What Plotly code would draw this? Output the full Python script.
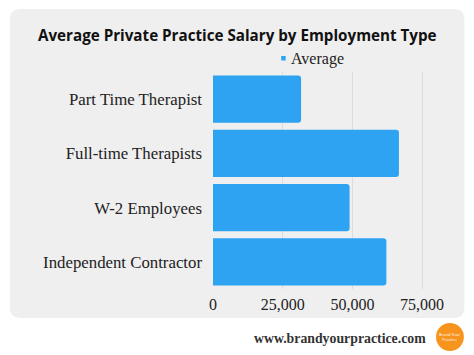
import plotly.graph_objects as go

categories = ["Part Time Therapist", "Full-time Therapists", "W-2 Employees", "Independent Contractor"]
average = [31600, 66700, 49000, 62200]
tick_vals = [0, 25000, 50000, 75000]
tick_text = ["0", "25,000", "50,000", "75,000"]
series_name = "Average"
bar_color = "#2ea3f2"

W, H = 474, 355
L, R, T, B = 212.5, 37.5, 72, 66
PW = W - L - R
PH = H - T - B

def px(x):
    return (x - L) / PW

def py(y):
    return (H - B - y) / PH

fig = go.Figure()
fig.add_trace(go.Bar(
    y=categories, x=average, orientation="h", name=series_name,
    marker=dict(color=bar_color, line=dict(width=0)),
    showlegend=False,
))

# rounded card background
x0, x1, y0, y1, r = 8.5, 465, 9, 318, 11
def P(x, y):
    return f"{px(x):.5f},{py(y):.5f}"
path = (f"M {P(x0 + r, y0)} L {P(x1 - r, y0)} Q {P(x1, y0)} {P(x1, y0 + r)} "
        f"L {P(x1, y1 - r)} Q {P(x1, y1)} {P(x1 - r, y1)} "
        f"L {P(x0 + r, y1)} Q {P(x0, y1)} {P(x0, y1 - r)} "
        f"L {P(x0, y0 + r)} Q {P(x0, y0)} {P(x0 + r, y0)} Z")

shapes = [
    dict(type="path", xref="paper", yref="paper", path=path,
         fillcolor="#efefef", line=dict(width=0), layer="below"),
    dict(type="circle", xref="paper", yref="paper",
         x0=px(436.5), x1=px(464.5), y0=py(351), y1=py(323),
         fillcolor="#f7941d", line=dict(width=0), layer="above"),
    # legend swatch
    dict(type="rect", xref="paper", yref="paper",
         x0=px(281), x1=px(285.5), y0=py(60.5), y1=py(56),
         fillcolor=bar_color, line=dict(width=0), layer="above"),
]

annotations = [
    dict(text="<b>Average Private Practice Salary by Employment Type</b>",
         xref="paper", yref="paper", x=px(237), y=py(35), showarrow=False,
         xanchor="center", yanchor="middle",
         font=dict(family="Open Sans", size=15.2, color="#111111")),
    dict(text=series_name,
         xref="paper", yref="paper", x=px(289), y=py(59), showarrow=False,
         xanchor="left", yanchor="middle",
         font=dict(family="Liberation Serif", size=16, color="#222222")),
    dict(text="<b>www.brandyourpractice.com</b>",
         xref="paper", yref="paper", x=px(428), y=py(338), showarrow=False,
         xanchor="right", yanchor="middle",
         font=dict(family="Liberation Serif", size=13.8, color="#333333")),
    dict(text="Brand Your<br>Practice",
         xref="paper", yref="paper", x=px(450.5), y=py(337), showarrow=False,
         xanchor="center", yanchor="middle",
         font=dict(family="Open Sans", size=4, color="#ffffff")),
]

fig.update_layout(
    width=W, height=H,
    margin=dict(l=L, r=R, t=T, b=B, pad=0),
    paper_bgcolor="#ffffff",
    plot_bgcolor="rgba(0,0,0,0)",
    bargap=0.13,
    barcornerradius=3,
    shapes=shapes,
    annotations=annotations,
    showlegend=False,
    xaxis=dict(range=[0, 80000], tickvals=tick_vals, ticktext=tick_text,
               showgrid=True, gridcolor="#dcdcdc", gridwidth=1, zeroline=False,
               showline=False, ticks="", ticklabelstandoff=4,
               tickfont=dict(family="Liberation Serif", size=16, color="#222222")),
    yaxis=dict(categoryorder="array", categoryarray=categories[::-1],
               showgrid=False, zeroline=False, showline=False, ticks="",
               ticklabelstandoff=10,
               tickfont=dict(family="Liberation Serif", size=16.8, color="#222222")),
)

fig.write_html("out.html")
